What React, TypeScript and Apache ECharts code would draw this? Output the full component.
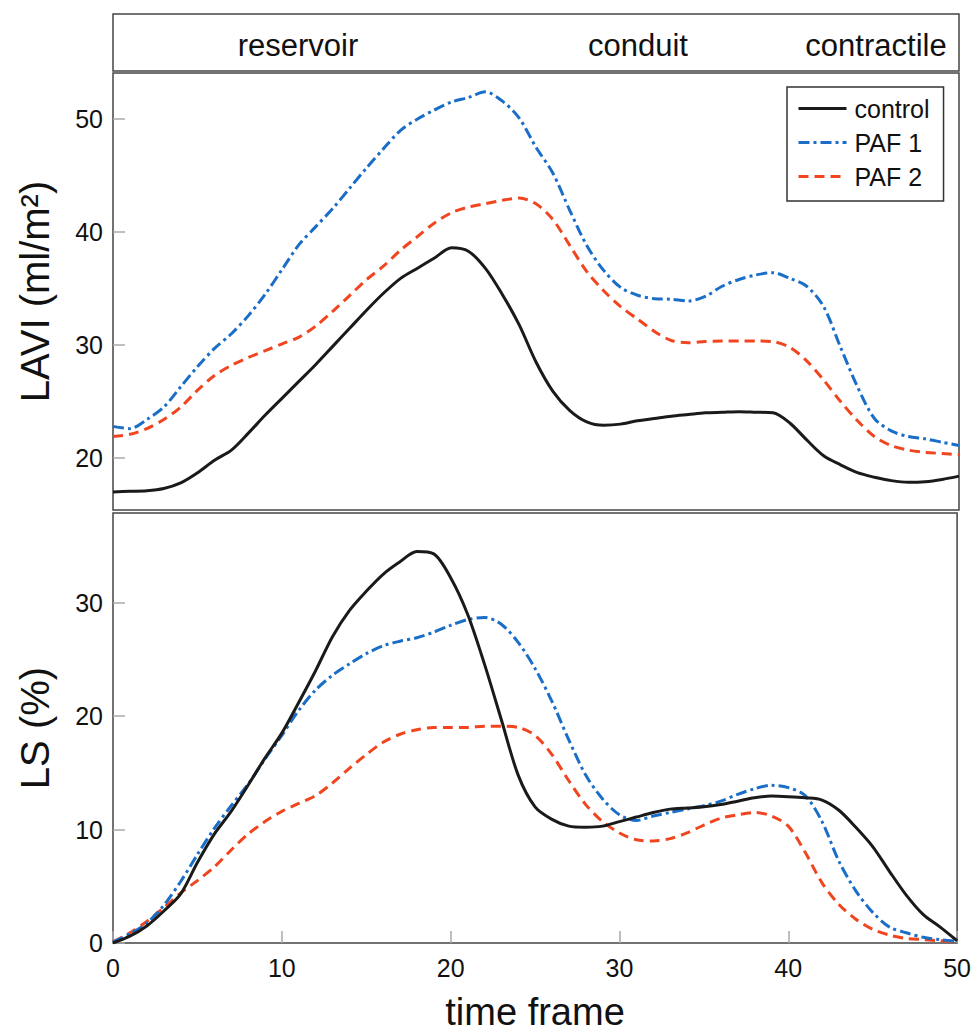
import React, { useEffect, useRef } from "react";
import * as echarts from "echarts";

const timeFrames = [
  0, 1, 2, 3, 4, 5, 6, 7, 8, 9, 10, 11, 12, 13, 14, 15, 16, 17, 18, 19, 20, 21, 22, 23, 24, 25,
  26, 27, 28, 29, 30, 31, 32, 33, 34, 35, 36, 37, 38, 39, 40, 41, 42, 43, 44, 45, 46, 47, 48, 49, 50,
];

const laviControl = [
  17.0, 17.05, 17.1, 17.3, 17.8, 18.7, 19.8, 20.7, 22.2, 23.8, 25.3, 26.8, 28.3, 29.9, 31.5, 33.1, 34.6,
  35.9, 36.8, 37.7, 38.6, 38.3, 36.8, 34.5, 31.8, 28.5, 25.9, 24.2, 23.2, 22.9, 23.0, 23.3, 23.5, 23.7,
  23.85, 24.0, 24.05, 24.1, 24.05, 24.0, 23.1, 21.6, 20.2, 19.4, 18.7, 18.3, 18.0, 17.85, 17.9, 18.1, 18.4,
];
const laviPaf1 = [
  22.8, 22.6, 23.4, 24.5, 26.3, 28.1, 29.7, 31.0, 32.6, 34.5, 36.7, 38.9, 40.5, 42.1, 43.9, 45.7, 47.4,
  49.0, 50.0, 50.8, 51.5, 51.9, 52.4, 51.6, 50.1, 47.5, 45.2, 41.9, 38.8, 36.6, 35.1, 34.4, 34.1, 34.05,
  33.9, 34.3, 35.2, 35.8, 36.2, 36.4, 35.9, 35.2, 33.4, 29.8, 26.3, 23.5, 22.4, 21.9, 21.7, 21.4, 21.1,
];
const laviPaf2 = [
  21.9, 22.1, 22.6, 23.4, 24.5, 26.0, 27.3, 28.2, 28.9, 29.5, 30.1, 30.7, 31.7, 33.0, 34.4, 35.8, 37.0,
  38.4, 39.6, 40.8, 41.7, 42.2, 42.5, 42.8, 43.0, 42.5, 41.1, 38.8, 36.5, 34.8, 33.4, 32.3, 31.2, 30.4,
  30.2, 30.3, 30.35, 30.35, 30.35, 30.3, 29.8, 28.6, 26.9, 25.0, 23.3, 21.9, 21.1, 20.7, 20.5, 20.4, 20.3,
];

const lsControl = [
  0.0, 0.6, 1.5, 2.8, 4.3, 7.1, 9.6, 11.6, 13.9, 16.3, 18.5, 21.2, 24.0, 27.0, 29.3, 31.0, 32.5, 33.6,
  34.5, 34.3, 32.2, 29.0, 24.6, 19.7, 14.8, 12.0, 10.9, 10.3, 10.2, 10.3, 10.7, 11.1, 11.5, 11.8, 11.9,
  12.0, 12.2, 12.5, 12.8, 12.95, 12.9, 12.8, 12.6, 11.7, 10.2, 8.5, 6.3, 4.2, 2.5, 1.4, 0.2,
];
const lsPaf1 = [
  0.1, 0.8, 1.75, 3.3, 5.4, 7.8, 10.1, 12.1, 14.0, 16.2, 18.3, 20.5, 22.3, 23.6, 24.6, 25.5, 26.2, 26.6,
  26.9, 27.4, 28.0, 28.5, 28.7, 28.1, 26.5, 24.2, 21.3, 17.9, 14.8, 12.7, 11.3, 10.8, 11.2, 11.5, 11.8,
  12.1, 12.5, 13.1, 13.6, 13.9, 13.7, 13.0, 10.7, 7.2, 4.6, 2.7, 1.4, 0.9, 0.5, 0.3, 0.15,
];
const lsPaf2 = [
  0.1, 0.9, 1.9, 3.1, 4.4, 5.5, 6.7, 8.2, 9.6, 10.7, 11.6, 12.3, 13.0, 14.1, 15.4, 16.6, 17.7, 18.4,
  18.8, 19.0, 19.0, 19.0, 19.1, 19.1, 19.0, 18.3, 16.6, 14.3, 12.2, 10.7, 9.7, 9.1, 9.0, 9.2, 9.7, 10.4,
  11.0, 11.3, 11.5, 11.2, 10.3, 8.0, 5.3, 3.4, 2.1, 1.2, 0.7, 0.4, 0.3, 0.2, 0.1,
];

const seriesNames = ["control", "PAF 1", "PAF 2"];
const phaseLabels = ["reservoir", "conduit", "contractile"];
const xTitle = "time frame";
const yTitleTop = "LAVI (ml/m²)";
const yTitleBottom = "LS (%)";

const FONT = "'Liberation Sans', Arial, Helvetica, sans-serif";
const TXT = "#111";
const BORDER = "#444";

const styles = [
  { color: "#1a1a1a", type: "solid" as any },
  { color: "#1a6ec8", type: [11, 4, 3, 4] as any },
  { color: "#f0451f", type: [10, 6] as any },
];

function pairs(vals: number[]) {
  return timeFrames.map((t, i) => [t, vals[i]]);
}

export default function App() {
  const ref = useRef<HTMLDivElement>(null);
  useEffect(() => {
    if (!ref.current) return;
    const chart = echarts.init(ref.current, undefined, { renderer: "svg" });
    const topData = [laviControl, laviPaf1, laviPaf2];
    const botData = [lsControl, lsPaf1, lsPaf2];
    const mk = (vals: number[], i: number, idx: number) => ({
      type: "line",
      name: seriesNames[i],
      xAxisIndex: idx,
      yAxisIndex: idx,
      data: pairs(vals),
      showSymbol: false,
      symbol: "none",
      smooth: 0.3,
      color: styles[i].color,
      lineStyle: { width: 3, color: styles[i].color, type: styles[i].type },
      z: 3 - i,
    });
    const yTick = { show: true, inside: true, length: 12, lineStyle: { color: "#aaa", width: 1.5 } };
    const option: any = {
      animation: false,
      backgroundColor: "#fff",
      textStyle: { fontFamily: FONT },
      grid: [
        { left: 113, top: 73, width: 846, height: 437, show: true, borderColor: BORDER, borderWidth: 1.5, backgroundColor: "transparent" },
        { left: 113, top: 513, width: 846, height: 432, show: true, borderColor: BORDER, borderWidth: 1.5, backgroundColor: "transparent" },
      ],
      xAxis: [
        {
          gridIndex: 0, type: "value", min: 0, max: 50, interval: 10,
          axisLine: { show: false }, axisTick: { show: false }, axisLabel: { show: false }, splitLine: { show: false },
        },
        {
          gridIndex: 1, type: "value", min: 0, max: 50, interval: 10,
          axisLine: { show: false },
          axisTick: yTick,
          axisLabel: { fontSize: 25, color: TXT, margin: 12, fontFamily: FONT },
          splitLine: { show: false },
          name: xTitle, nameLocation: "middle", nameGap: 50,
          nameTextStyle: { fontSize: 38, color: TXT, fontFamily: FONT },
        },
      ],
      yAxis: [
        {
          gridIndex: 0, type: "value", min: 15.4, max: 54.07, splitNumber: 4,
          axisLine: { show: false },
          axisTick: yTick,
          axisLabel: { fontSize: 25, color: TXT, margin: 10, fontFamily: FONT, showMinLabel: false, showMaxLabel: false },
          splitLine: { show: false },
          name: yTitleTop, nameLocation: "middle", nameGap: 58,
          nameTextStyle: { fontSize: 40, color: TXT, fontFamily: FONT },
        },
        {
          gridIndex: 1, type: "value", min: 0, max: 37.9, splitNumber: 4,
          axisLine: { show: false },
          axisTick: yTick,
          axisLabel: { fontSize: 25, color: TXT, margin: 10, fontFamily: FONT, showMaxLabel: false },
          splitLine: { show: false },
          name: yTitleBottom, nameLocation: "middle", nameGap: 58,
          nameTextStyle: { fontSize: 40, color: TXT, fontFamily: FONT },
        },
      ],
      legend: {
        data: seriesNames,
        left: 787, top: 87, orient: "vertical",
        borderColor: "#333", borderWidth: 1.5, backgroundColor: "#fff",
        padding: [9, 14, 12, 10],
        itemWidth: 48, itemHeight: 14, itemGap: 9,
        itemStyle: { opacity: 0, borderWidth: 0 },
        lineStyle: { width: 3 },
        textStyle: { fontSize: 25, color: TXT, fontFamily: FONT, padding: [0, 0, 0, 3] },
      },
      graphic: [
        { type: "rect", shape: { x: 113, y: 14, width: 846, height: 57 }, style: { fill: "none", stroke: BORDER, lineWidth: 1.5 } },
        { type: "text", x: 298, y: 45, style: { text: phaseLabels[0], fontSize: 31, fill: TXT, align: "center", verticalAlign: "middle", fontFamily: FONT } },
        { type: "text", x: 638, y: 45, style: { text: phaseLabels[1], fontSize: 31, fill: TXT, align: "center", verticalAlign: "middle", fontFamily: FONT } },
        { type: "text", x: 876, y: 45, style: { text: phaseLabels[2], fontSize: 31, fill: TXT, align: "center", verticalAlign: "middle", fontFamily: FONT } },
      ],
      series: [
        ...topData.map((v, i) => mk(v, i, 0)),
        ...botData.map((v, i) => mk(v, i, 1)),
      ],
    };
    chart.setOption(option);
    return () => chart.dispose();
  }, []);
  return (
    <div
      ref={ref}
      style={{ position: "absolute", left: 0, top: 0, width: 974, height: 1032, background: "#fff" }}
    />
  );
}
